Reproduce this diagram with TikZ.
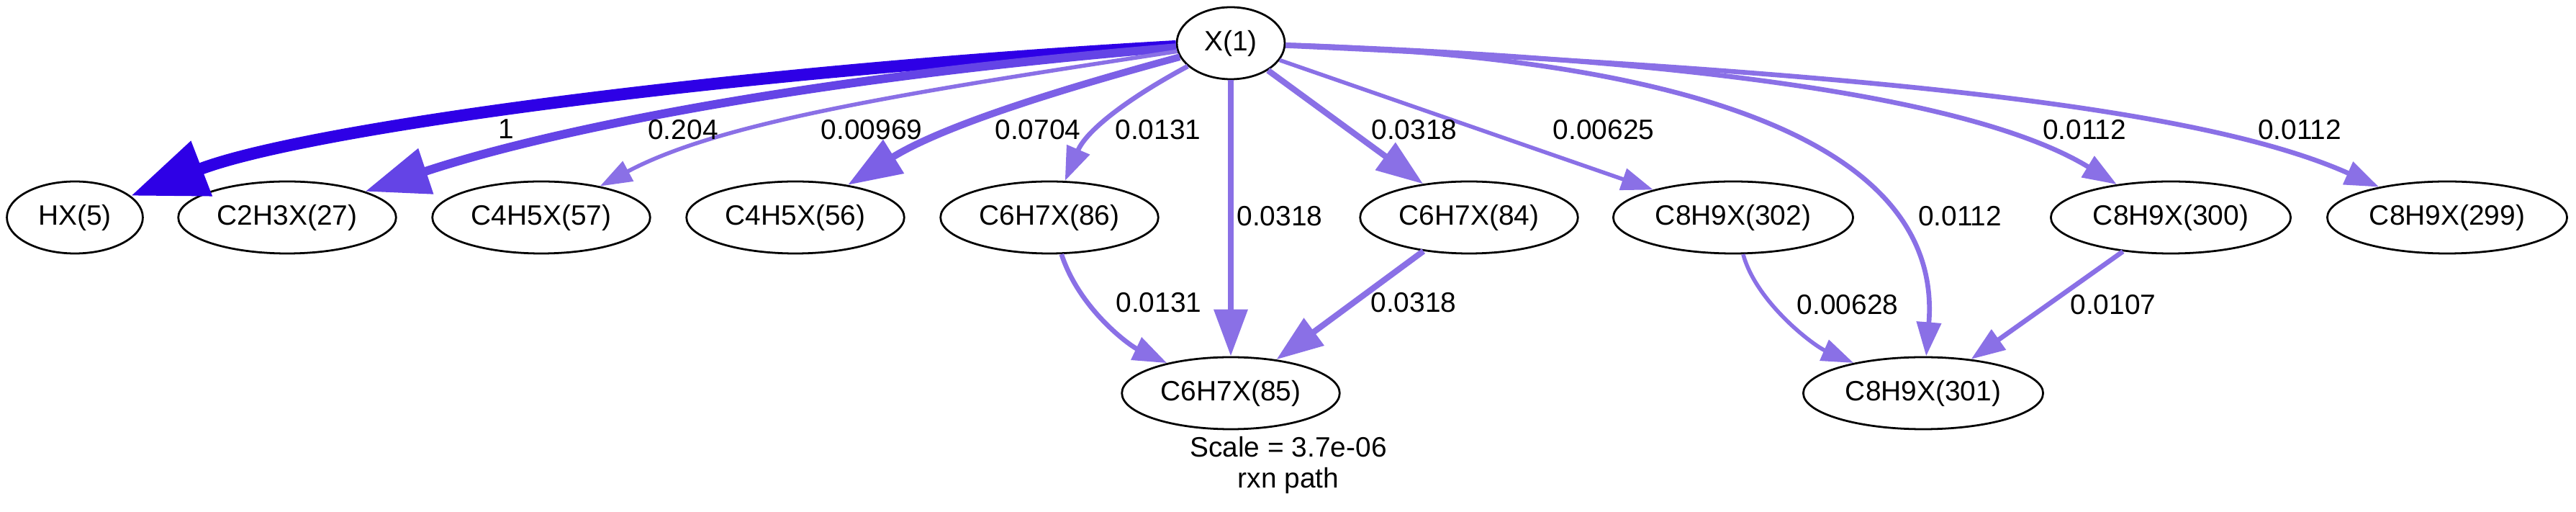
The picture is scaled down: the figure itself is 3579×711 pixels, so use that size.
\documentclass[tikz,border=0pt]{standalone}
\usepackage{fontspec}
\setmainfont{Liberation Sans}
\usetikzlibrary{shapes.geometric,arrows.meta}

\definecolor{rxnA}{HTML}{2E00E6}
\definecolor{rxnB}{HTML}{6444E6}
\definecolor{rxnC}{HTML}{7C60E6}
\definecolor{rxnD}{HTML}{8A70E6}

\tikzset{
  sp/.style={ellipse,draw,line width=1pt,minimum height=36pt,minimum width=54pt,inner xsep=3.5pt,font=\fontsize{14pt}{16pt}\selectfont},
  val/.style={inner sep=0pt,font=\fontsize{14pt}{16pt}\selectfont},
  e1/.style={line width=6pt,draw=rxnA,-{Triangle[length=38pt,width=28pt]}},
  e2/.style={line width=4.3pt,draw=rxnB,-{Triangle[length=32pt,width=23pt]}},
  e3/.style={line width=3.5pt,draw=rxnC,-{Triangle[length=27pt,width=19pt]}},
  e4/.style={line width=3pt,draw=rxnD,-{Triangle[length=23.4pt,width=16.4pt]}},
  e5/.style={line width=2.4pt,draw=rxnD,-{Triangle[length=17pt,width=12pt]}},
  e6/.style={line width=2pt,draw=rxnD,-{Triangle[length=16pt,width=11pt]}}
}

\begin{document}
\begin{tikzpicture}[x=0.36pt,y=-0.36pt]
  \useasboundingbox (0,0) rectangle (3579,711);
  \node[sp] (X1) at (1710,60) {X(1)};
  \node[sp,minimum width=68pt] (HX5) at (104,302) {HX(5)};
  \node[sp] (C2H3X27) at (399,302) {C2H3X(27)};
  \node[sp] (C4H5X57) at (752,302) {C4H5X(57)};
  \node[sp] (C4H5X56) at (1105,302) {C4H5X(56)};
  \node[sp] (C6H7X86) at (1458,302) {C6H7X(86)};
  \node[sp] (C6H7X84) at (2041,302) {C6H7X(84)};
  \node[sp] (C8H9X302) at (2408,302) {C8H9X(302)};
  \node[sp] (C8H9X300) at (3016,302) {C8H9X(300)};
  \node[sp] (C8H9X299) at (3400,302) {C8H9X(299)};
  \node[sp] (C6H7X85) at (1710,546) {C6H7X(85)};
  \node[sp] (C8H9X301) at (2672,546) {C8H9X(301)};
  % fluxes out of X(1)
  \draw[e1] (X1) .. controls (1000,100) and (420,180) .. (HX5);
  \draw[e2] (X1) .. controls (1100,110) and (750,185) .. (C2H3X27);
  \draw[e6] (X1) .. controls (1250,130) and (1000,170) .. (C4H5X57);
  \draw[e3] (X1) .. controls (1470,125) and (1310,175) .. (C4H5X56);
  \draw[e5] (X1) .. controls (1570,135) and (1510,180) .. (C6H7X86);
  \draw[e4] (X1) -- (C6H7X85);
  \draw[e4] (X1) -- (C6H7X84);
  \draw[e6] (X1) -- (C8H9X302);
  \draw[e5] (X1) .. controls (2350,80) and (2700,200) .. (C8H9X301);
  \draw[e5] (X1) .. controls (2300,80) and (2735,130) .. (C8H9X300);
  \draw[e5] (X1) .. controls (2600,100) and (3060,150) .. (C8H9X299);
  % second step
  \draw[e5] (C6H7X86) .. controls (1500,430) and (1570,480) .. (C6H7X85);
  \draw[e4] (C6H7X84) -- (C6H7X85);
  \draw[e6] (C8H9X302) .. controls (2440,420) and (2520,480) .. (C8H9X301);
  \draw[e5] (C8H9X300) -- (C8H9X301);
  % edge values
  \node[val] (r1) at (703,179) {1};
  \node[val] (r2) at (949,180) {0.204};
  \node[val] (r3) at (1211,180) {0.00969};
  \node[val] (r4) at (1442,180) {0.0704};
  \node[val] (r5) at (1609,180) {0.0131};
  \node[val] (r6) at (1778,300) {0.0318};
  \node[val] (r7) at (1965,180) {0.0318};
  \node[val] (r8) at (2228,180) {0.00625};
  \node[val] (r9) at (2723,300) {0.0112};
  \node[val] (r10) at (2896,180) {0.0112};
  \node[val] (r11) at (3195,180) {0.0112};
  \node[val] (r12) at (1610,420) {0.0131};
  \node[val] (r13) at (1964,420) {0.0318};
  \node[val] (r14) at (2567,423) {0.00628};
  \node[val] (r15) at (2936,423) {0.0107};
  \node[val,align=center,font=\fontsize{14pt}{15.5pt}\selectfont] (scale) at (1790,646) {Scale = 3.7e-06\\rxn path};
\end{tikzpicture}
\end{document}
